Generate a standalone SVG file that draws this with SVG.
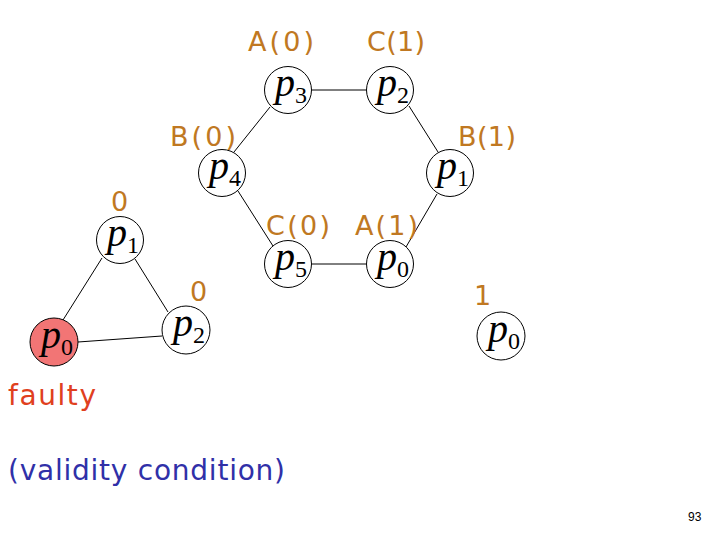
<svg xmlns="http://www.w3.org/2000/svg" width="720" height="540" viewBox="0 0 720 540">
<style>
.n{fill:#fff;stroke:#000;stroke-width:1}
.f{fill:#F27575;stroke:#000;stroke-width:1}
.e{stroke:#000;stroke-width:1;fill:none}
.p{font-family:"Liberation Serif",serif;font-style:italic;font-size:40px;fill:#000;text-anchor:middle}
.s{font-style:normal;font-size:24px}
.l{font-family:"DejaVu Sans","Liberation Sans",sans-serif;font-size:27px;fill:#C07822}
.t{font-family:"DejaVu Sans","Liberation Sans",sans-serif;font-size:28px}
</style>
<rect width="720" height="540" fill="#fff"/>
<g id="connectors">
<line class="e" x1="312" y1="90" x2="367" y2="90"/>
<line class="e" x1="270" y1="107" x2="234" y2="152"/>
<line class="e" x1="409" y1="106" x2="438" y2="152"/>
<line class="e" x1="238" y1="191" x2="273" y2="246"/>
<line class="e" x1="437" y1="194" x2="406" y2="247"/>
<line class="e" x1="312" y1="264" x2="367" y2="264"/>
<line class="e" x1="102" y1="258" x2="63" y2="320"/>
<line class="e" x1="135" y1="259" x2="168" y2="312"/>
<line class="e" x1="78" y1="342" x2="162" y2="336"/>
</g>
<g id="p3"><circle class="n" cx="288" cy="90" r="23.5"/><text class="p" x="291" y="96">p<tspan class="s" dy="7">3</tspan></text></g>
<g id="p2top"><circle class="n" cx="390" cy="90" r="23.5"/><text class="p" x="393" y="96">p<tspan class="s" dy="7">2</tspan></text></g>
<g id="p4"><circle class="n" cx="222" cy="173" r="23.5"/><text class="p" x="225" y="179">p<tspan class="s" dy="7">4</tspan></text></g>
<g id="p1right"><circle class="n" cx="450" cy="173" r="23.5"/><text class="p" x="453" y="179">p<tspan class="s" dy="7">1</tspan></text></g>
<g id="p5"><circle class="n" cx="288" cy="264" r="23.5"/><text class="p" x="291" y="270">p<tspan class="s" dy="7">5</tspan></text></g>
<g id="p0hex"><circle class="n" cx="390" cy="264" r="23.5"/><text class="p" x="393" y="270">p<tspan class="s" dy="7">0</tspan></text></g>
<g id="p0single"><circle class="n" cx="501" cy="336" r="24"/><text class="p" x="504" y="342">p<tspan class="s" dy="7">0</tspan></text></g>
<g id="p1tri"><circle class="n" cx="120" cy="240" r="23.5"/><text class="p" x="123" y="246">p<tspan class="s" dy="7">1</tspan></text></g>
<g id="p2tri"><circle class="n" cx="186" cy="330" r="24"/><text class="p" x="189" y="336">p<tspan class="s" dy="7">2</tspan></text></g>
<g id="p0faulty"><circle class="f" cx="54" cy="342" r="24"/><text class="p" x="57" y="348">p<tspan class="s" dy="7">0</tspan></text></g>
<g id="labels">
<text class="l" x="248" y="51" textLength="66">A(0)</text>
<text class="l" x="367" y="51" textLength="58">C(1)</text>
<text class="l" x="170" y="146" textLength="66">B(0)</text>
<text class="l" x="458" y="146" textLength="58">B(1)</text>
<text class="l" x="111" y="211">0</text>
<text class="l" x="266" y="235" textLength="64">C(0)</text>
<text class="l" x="355" y="235" textLength="63">A(1)</text>
<text class="l" x="190" y="301">0</text>
<text class="l" x="474" y="305">1</text>
<text class="t" x="8" y="405" fill="#E0401E" textLength="88">faulty</text>
<text class="t" x="8" y="480" fill="#3030A8" textLength="277">(validity condition)</text>
<text x="688" y="521" font-family="'Liberation Sans',sans-serif" font-size="12" fill="#000">93</text>
</g>
</svg>
